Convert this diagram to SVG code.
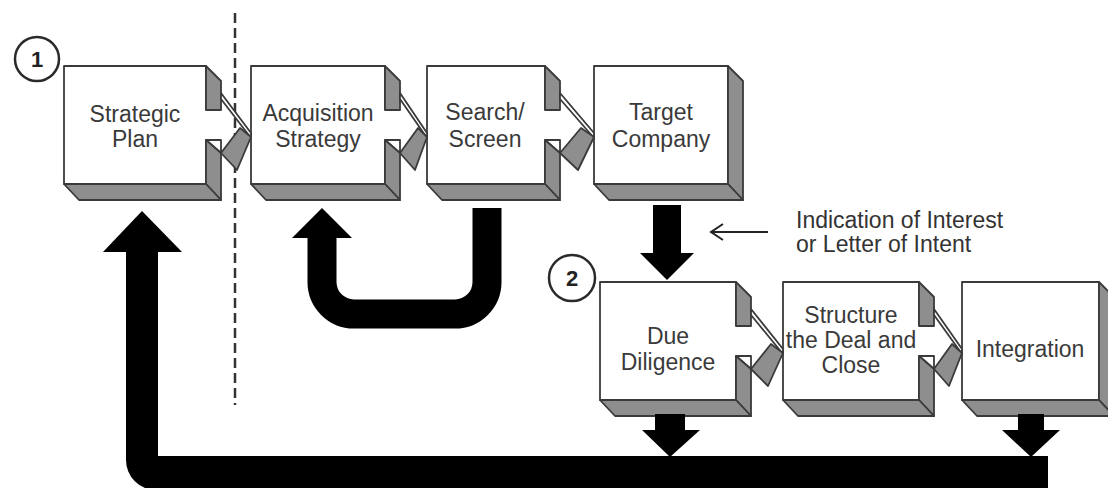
<svg xmlns="http://www.w3.org/2000/svg" width="1108" height="488" viewBox="0 0 1108 488">
  <defs>
    <style>
      .face { fill: #ffffff; stroke: #3a3a3a; stroke-width: 1.8; stroke-linejoin: round; }
      .shade { fill: #8e8e8e; stroke: #3a3a3a; stroke-width: 1.8; stroke-linejoin: round; }
      .label { font-family: "Liberation Sans", Arial, sans-serif; font-size: 23px; fill: #3a3a3a; text-anchor: middle; }
      .note { font-family: "Liberation Sans", Arial, sans-serif; font-size: 23px; fill: #333333; }
      .num { font-family: "Liberation Sans", Arial, sans-serif; font-size: 22px; font-weight: bold; fill: #222222; text-anchor: middle; }
      .ring { fill: #ffffff; stroke: #2a2a2a; stroke-width: 2.5; }
      .solid { fill: #000000; }
    </style>
  </defs>

  <!-- step markers -->
  <g id="marker-1">
    <circle class="ring" cx="37" cy="59" r="22"/>
    <text class="num" x="37" y="67">1</text>
  </g>
  <g id="marker-2">
    <circle class="ring" cx="572" cy="278" r="23"/>
    <text class="num" x="572" y="286">2</text>
  </g>

  <!-- phase divider -->
  <g id="divider">
    <line x1="235" y1="13" x2="235" y2="405" stroke="#333333" stroke-width="2.5" stroke-dasharray="10 5"/>
  </g>

  <!-- process blocks: front face, right face (notched where a link plugs in), bottom face -->
  <g id="strategic-plan" transform="translate(64,66)">
    <path class="face" d="M142 44V0H0V118H142V74"/>
    <polygon class="shade" points="142,0 157,15 157,44 142,44"/>
    <polygon class="face" points="142,74 157,74 157,87"/>
    <polygon class="shade" points="142,74 157,87 157,134 142,118"/>
    <polygon class="shade" points="0,118 142,118 157,134 15,134"/>
    <text class="label" x="71" y="56">Strategic</text>
    <text class="label" x="71" y="81">Plan</text>
  </g>

  <g id="acquisition-strategy" transform="translate(251,66)">
    <path class="face" d="M134 44V0H0V118H134V74"/>
    <polygon class="shade" points="134,0 149,15 149,44 134,44"/>
    <polygon class="face" points="134,74 149,74 149,87"/>
    <polygon class="shade" points="134,74 149,87 149,134 134,118"/>
    <polygon class="shade" points="0,118 134,118 149,134 15,134"/>
    <text class="label" x="67" y="55">Acquisition</text>
    <text class="label" x="67" y="81">Strategy</text>
  </g>

  <g id="search-screen" transform="translate(427,66)">
    <path class="face" d="M118 44V0H0V118H118V74"/>
    <polygon class="shade" points="118,0 133,15 133,44 118,44"/>
    <polygon class="face" points="118,74 133,74 133,87"/>
    <polygon class="shade" points="118,74 133,87 133,134 118,118"/>
    <polygon class="shade" points="0,118 118,118 133,134 15,134"/>
    <text class="label" x="58" y="54">Search/</text>
    <text class="label" x="58" y="81">Screen</text>
  </g>

  <g id="target-company" transform="translate(594,66)">
    <rect class="face" x="0" y="0" width="134" height="118"/>
    <polygon class="shade" points="134,0 149,15 149,134 134,118"/>
    <polygon class="shade" points="0,118 134,118 149,134 15,134"/>
    <text class="label" x="67" y="54">Target</text>
    <text class="label" x="67" y="81">Company</text>
  </g>

  <g id="due-diligence" transform="translate(600,282)">
    <path class="face" d="M136 44V0H0V118H136V74"/>
    <polygon class="shade" points="136,0 151,15 151,44 136,44"/>
    <polygon class="face" points="136,74 151,74 151,87"/>
    <polygon class="shade" points="136,74 151,87 151,134 136,118"/>
    <polygon class="shade" points="0,118 136,118 151,134 15,134"/>
    <text class="label" x="68" y="62">Due</text>
    <text class="label" x="68" y="88">Diligence</text>
  </g>

  <g id="structure-deal" transform="translate(783,282)">
    <path class="face" d="M136 44V0H0V118H136V74"/>
    <polygon class="shade" points="136,0 151,15 151,44 136,44"/>
    <polygon class="face" points="136,74 151,74 151,87"/>
    <polygon class="shade" points="136,74 151,87 151,134 136,118"/>
    <polygon class="shade" points="0,118 136,118 151,134 15,134"/>
    <text class="label" x="68" y="41">Structure</text>
    <text class="label" x="68" y="66">the Deal and</text>
    <text class="label" x="68" y="91">Close</text>
  </g>

  <g id="integration" transform="translate(962,282)">
    <rect class="face" x="0" y="0" width="137" height="118"/>
    <polygon class="shade" points="137,0 152,15 152,134 137,118"/>
    <polygon class="shade" points="0,118 137,118 152,134 15,134"/>
    <text class="label" x="68" y="75">Integration</text>
  </g>

  <!-- annotation -->
  <g id="loi-note">
    <text class="note" x="796" y="228">Indication of Interest</text>
    <text class="note" x="796" y="252">or Letter of Intent</text>
  </g>

  <!-- connectors -->
  <g id="connectors">
    <!-- chevron links between neighbouring blocks -->
    <g transform="translate(206,0)">
      <polygon class="face" points="15,93 45,133 45,138 15,99"/>
      <polygon class="shade" points="15,153 34,128 45,137 31,170"/>
    </g>
    <g transform="translate(385,0)">
      <polygon class="face" points="15,93 42,133 42,138 15,99"/>
      <polygon class="shade" points="15,153 33,128 42,137 30,170"/>
    </g>
    <g transform="translate(545,0)">
      <polygon class="face" points="15,93 49,133 49,138 15,99"/>
      <polygon class="shade" points="15,153 36,128 49,137 33,170"/>
    </g>
    <g transform="translate(736,216)">
      <polygon class="face" points="15,93 47,133 47,138 15,99"/>
      <polygon class="shade" points="15,153 35,128 47,137 32,170"/>
    </g>
    <g transform="translate(919,216)">
      <polygon class="face" points="15,93 43,133 43,138 15,99"/>
      <polygon class="shade" points="15,153 33,128 43,137 30,170"/>
    </g>

    <!-- loop back from Search/Screen to Acquisition Strategy -->
    <path d="M487 208V282A32 32 0 0 1 455 314H354A32 32 0 0 1 322 282V236" fill="none" stroke="#000" stroke-width="29"/>
    <polygon class="solid" points="292,238 322,208 352,238"/>

    <!-- Target Company down to Due Diligence -->
    <rect class="solid" x="653" y="205" width="28" height="49"/>
    <polygon class="solid" points="640,253 694,253 667,280"/>

    <!-- pointer to the annotation -->
    <path d="M768 232H711M723 224L711 232L723 240" fill="none" stroke="#222" stroke-width="2"/>

    <!-- feedback into the return bar -->
    <rect class="solid" x="655" y="414" width="30" height="17"/>
    <polygon class="solid" points="642,430 700,430 670,457"/>
    <rect class="solid" x="1018" y="414" width="26" height="17"/>
    <polygon class="solid" points="1002,430 1060,430 1031,457"/>

    <!-- return bar back to Strategic Plan -->
    <path class="solid" d="M126 251V460A30 30 0 0 0 156 490H1048V456H158V251Z"/>
    <polygon class="solid" points="103,252 142,211 182,252"/>
  </g>
</svg>
